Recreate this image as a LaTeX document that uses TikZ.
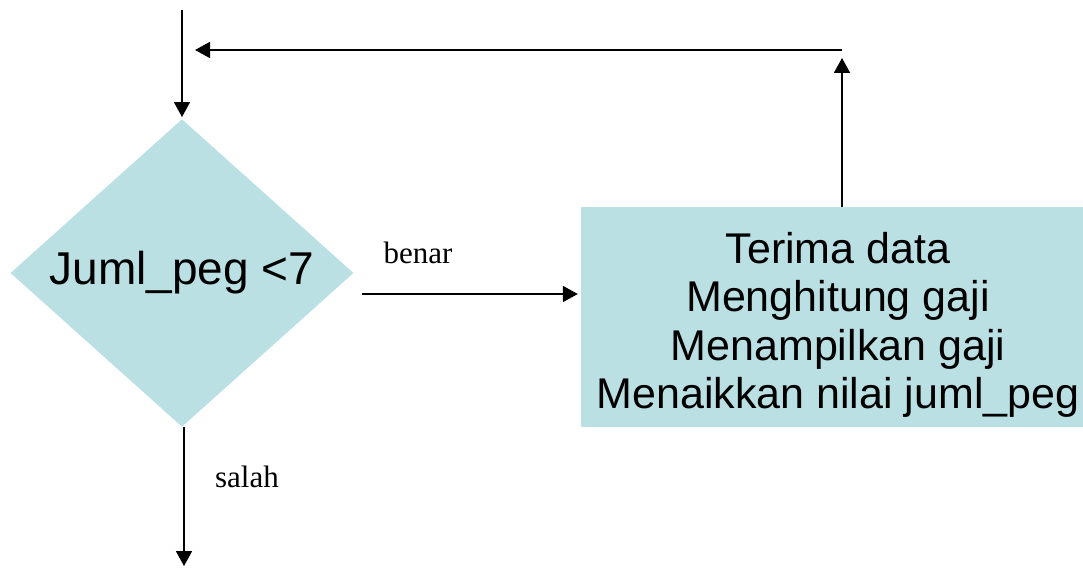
\documentclass[tikz,border=0pt]{standalone}
\usepackage{fontspec}
\setmainfont{Liberation Serif}
\newfontfamily\boxfont{Liberation Sans}
\usetikzlibrary{shapes.geometric,arrows.meta}
\definecolor{flowfill}{RGB}{186,224,227}
\begin{document}
\begin{tikzpicture}[x=1pt,y=-1pt,
  line/.style={line width=1.8pt},
  arr/.style={line, -{Triangle[length=15pt,width=16pt]}},
  decision/.style={diamond, fill=flowfill, inner sep=0pt,
    minimum width=343pt, minimum height=300pt,
    font=\boxfont\fontsize{46}{50}\selectfont},
  process/.style={rectangle, fill=flowfill, inner sep=0pt,
    minimum width=502pt, minimum height=220pt},
  steps/.style={align=center, inner sep=0pt,
    font=\boxfont\fontsize{43}{48.5}\selectfont},
  label/.style={font=\fontsize{31}{34}\selectfont, inner sep=0pt}]
\useasboundingbox (0,0) rectangle (1083,567);

% shapes
\node[decision] (dec) at (182,273) {Juml\_peg <7};
\node[process] (box) at (832,317) {};
\node[steps] (boxtext) at (838,325) {Terima data\\Menghitung gaji\\Menampilkan gaji\\Menaikkan nilai juml\_peg};

% connector end points
\coordinate (entry) at (182,10);
\coordinate (bstart) at (362,294);
\coordinate (upend) at (842,58);
\coordinate (turn) at (842,50);
\coordinate (back) at (195,50);
\coordinate (exit) at (184,566);

% connectors
\draw[arr, shorten >=2pt] (entry) -- (dec.north);
\draw[arr, shorten >=3pt] (bstart) -- (bstart -| box.west);
\draw[arr] (box.north -| upend) -- (upend);
\draw[arr] (turn) -- (back);
\draw[arr] (dec.south -| exit) -- (exit);

% labels
\node[label] (lbenar) at (418,253) {benar};
\node[label] (lsalah) at (247,477) {salah};
\end{tikzpicture}
\end{document}
